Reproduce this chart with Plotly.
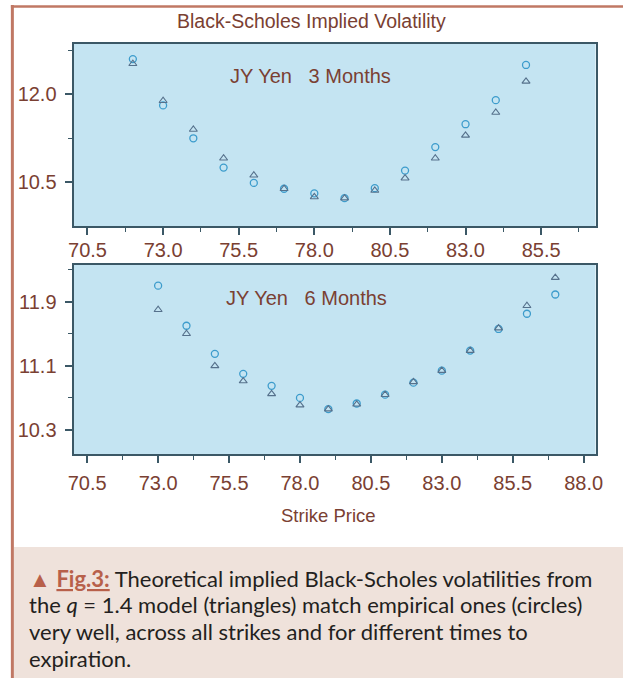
import plotly.graph_objects as go

# ---------------- data ----------------
strikes_3m = [72, 73, 74, 75, 76, 77, 78, 79, 80, 81, 82, 83, 84, 85]
empirical_3m = [12.60, 11.81, 11.25, 10.75, 10.49, 10.39, 10.31, 10.23, 10.40, 10.70, 11.10, 11.49, 11.90, 12.50]
model_3m = [12.52, 11.89, 11.40, 10.91, 10.62, 10.39, 10.25, 10.23, 10.36, 10.57, 10.91, 11.30, 11.69, 12.22]

strikes_6m = [73, 74, 75, 76, 77, 78, 79, 80, 81, 82, 83, 84, 85, 86, 87]
empirical_6m = [12.10, 11.60, 11.25, 11.00, 10.85, 10.70, 10.56, 10.63, 10.74, 10.89, 11.04, 11.29, 11.56, 11.75, 11.99]
model_6m = [11.80, 11.50, 11.10, 10.91, 10.75, 10.61, 10.56, 10.62, 10.74, 10.90, 11.04, 11.29, 11.57, 11.85, 12.20]

title_text = "Black-Scholes Implied Volatility"
panel_labels = ["JY Yen   3 Months", "JY Yen   6 Months"]
x_title = "Strike Price"
caption_lines = [
    "<span style='color:#b8604a'>\u25B2 <b><u>Fig.3:</u></b></span> Theoretical implied Black-Scholes volatilities from",
    "the <i>q</i> = 1.4 model (triangles) match empirical ones (circles)",
    "very well, across all strikes and for different times to",
    "expiration.",
]

W, H = 630, 678
TXT = "#7a4032"
AX = "#3b5866"
CIRC = "#3d9ccc"
TRI = "#56718c"
FONT = "'Liberation Sans', Arial, sans-serif"


def px(x):
    return x / W


def py(y):
    return 1 - y / H


fig = go.Figure()

fig.add_trace(go.Scatter(x=strikes_3m, y=empirical_3m, mode="markers", xaxis="x", yaxis="y",
                         marker=dict(symbol="circle-open", size=7, color=CIRC, line=dict(width=1.3, color=CIRC)),
                         showlegend=False))
fig.add_trace(go.Scatter(x=strikes_3m, y=model_3m, mode="markers", xaxis="x", yaxis="y",
                         marker=dict(symbol="triangle-up-open", size=7, color=TRI, line=dict(width=1.1, color=TRI)),
                         showlegend=False))
fig.add_trace(go.Scatter(x=strikes_6m, y=empirical_6m, mode="markers", xaxis="x2", yaxis="y2",
                         marker=dict(symbol="circle-open", size=7, color=CIRC, line=dict(width=1.3, color=CIRC)),
                         showlegend=False))
fig.add_trace(go.Scatter(x=strikes_6m, y=model_6m, mode="markers", xaxis="x2", yaxis="y2",
                         marker=dict(symbol="triangle-up-open", size=7, color=TRI, line=dict(width=1.1, color=TRI)),
                         showlegend=False))


def xaxis(rng, anchor, standoff):
    return dict(range=rng, domain=[px(69), px(602)], anchor=anchor,
                tickmode="linear", tick0=70.5, dtick=2.5, tickformat=".1f",
                ticks="outside", ticklen=7, tickwidth=1.5, tickcolor=AX,
                minor=dict(tickmode="linear", tick0=70.5, dtick=1.25, ticks="outside",
                           ticklen=4, tickwidth=1.2, tickcolor=AX),
                showline=True, linecolor=AX, linewidth=2, mirror=True,
                showgrid=False, zeroline=False, ticklabelstandoff=standoff,
                tickfont=dict(family=FONT, size=20, color=TXT))


def yaxis(rng, dom, tick0, dtick, anchor):
    return dict(range=rng, domain=dom, anchor=anchor,
                tickmode="linear", tick0=tick0, dtick=dtick, tickformat=".1f",
                ticks="outside", ticklen=7, tickwidth=1.5, tickcolor=AX,
                minor=dict(tickmode="linear", tick0=tick0, dtick=dtick / 2, ticks="outside",
                           ticklen=4, tickwidth=1.2, tickcolor=AX),
                showline=True, linecolor=AX, linewidth=2, mirror=True,
                showgrid=False, zeroline=False, ticklabelstandoff=4,
                tickfont=dict(family=FONT, size=20, color=TXT))


fig.update_layout(
    width=W, height=H, margin=dict(l=0, r=0, t=0, b=0),
    paper_bgcolor="white", plot_bgcolor="#c4e4f2",
    xaxis=xaxis([70.04, 87.3], "y", -2),
    yaxis=yaxis([9.755, 12.857], [py(226), py(44)], 10.5, 1.5, "x"),
    xaxis2=xaxis([70.02, 88.42], "y2", 3),
    yaxis2=yaxis([10.0, 12.358], [py(454), py(265)], 10.3, 0.8, "x2"),
)

shapes = [
    # caption background
    dict(type="rect", xref="paper", yref="paper", x0=px(8), x1=1, y0=0, y1=py(547),
         fillcolor="#efe2db", line=dict(width=0), layer="below"),
    # frame lines
    dict(type="line", xref="paper", yref="paper", x0=px(5), x1=1, y0=py(6.5), y1=py(6.5),
         line=dict(color="#c07864", width=2.5)),
    dict(type="line", xref="paper", yref="paper", x0=px(6.5), x1=px(6.5), y0=0, y1=py(5),
         line=dict(color="#c07864", width=3)),
]
fig.update_layout(shapes=shapes)

annotations = [
    dict(text=title_text, x=px(312), y=py(21), xref="paper", yref="paper",
         showarrow=False, xanchor="center", yanchor="middle",
         font=dict(family=FONT, size=19.5, color=TXT)),
    dict(text=panel_labels[0], x=px(311), y=py(76), xref="paper", yref="paper",
         showarrow=False, xanchor="center", yanchor="middle",
         font=dict(family=FONT, size=20, color=TXT)),
    dict(text=panel_labels[1], x=px(307), y=py(298), xref="paper", yref="paper",
         showarrow=False, xanchor="center", yanchor="middle",
         font=dict(family=FONT, size=20, color=TXT)),
    dict(text=x_title, x=px(329), y=py(515), xref="paper", yref="paper",
         showarrow=False, xanchor="center", yanchor="middle",
         font=dict(family=FONT, size=18.5, color=TXT)),
]
caption_centers = [578, 604.5, 631.5, 658.5]
for line, yc in zip(caption_lines, caption_centers):
    annotations.append(dict(text=line, x=px(21), y=py(yc), xref="paper", yref="paper",
                            showarrow=False, xanchor="left", yanchor="middle", align="left",
                            font=dict(family="Lato, sans-serif", size=22, color="#231f20")))
fig.update_layout(annotations=annotations)

fig.write_html("out.html")
